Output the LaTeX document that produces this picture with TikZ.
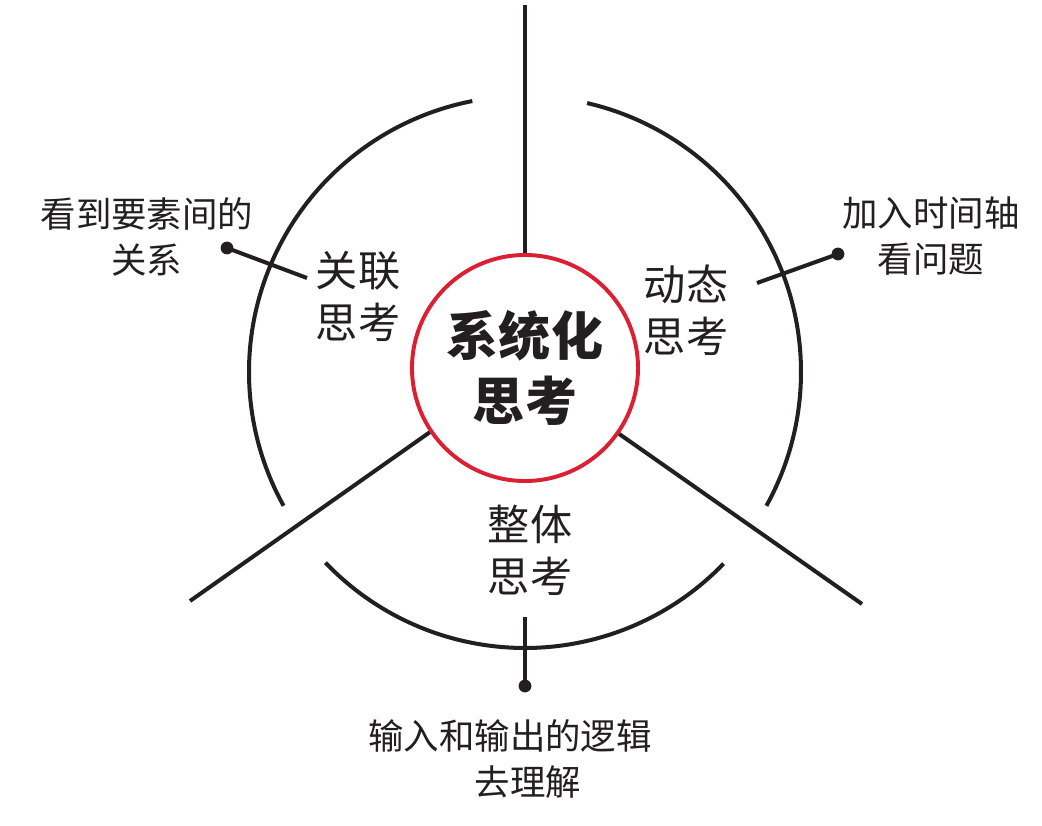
\documentclass[tikz,border=0pt]{standalone}
\usepackage{fontspec}
\newfontfamily\cjk{Noto Sans CJK SC}
\definecolor{ringred}{RGB}{220,32,52}
\definecolor{ink}{RGB}{35,31,32}
\begin{document}
\begin{tikzpicture}[x=0.025cm,y=0.025cm,
  blk/.style={draw=ink,line width=2.85pt},
  dotnode/.style={circle,fill=ink,inner sep=0pt,minimum size=0.32cm},
  lbl/.style={align=center,text=ink,inner sep=0pt,font=\cjk\fontsize{30}{37}\selectfont},
  small/.style={align=center,text=ink,inner sep=0pt,font=\cjk\fontsize{25.2}{32.5}\selectfont}]
\useasboundingbox (0,0) rectangle (1042,825);
\fill[white] (0,0) rectangle (1042,825);
\coordinate (O) at (525,453);
% center circle
\node[circle,draw=ringred,line width=2.8pt,minimum size=5.65cm,inner sep=0pt,
  align=center,text=ink,font=\cjk\bfseries\fontsize{37}{46}\selectfont] (c) at (525,457) {系统化\\思考};
% spokes
\coordinate (top) at (525,820);
\coordinate (ll) at (190,224);
\coordinate (lr) at (862,221);
\draw[blk] (c.north) -- (top);
\draw[blk] (c.214.8) -- (ll);
\draw[blk] (c.-35) -- (lr);
% outer arcs
\draw[blk] ([shift={(101:276)}]O) arc[start angle=101,end angle=209,radius=276];
\draw[blk] ([shift={(223.7:276)}]O) arc[start angle=223.7,end angle=316,radius=276];
\draw[blk] ([shift={(-29:276)}]O) arc[start angle=-29,end angle=77,radius=276];
% pointer dots
\node[dotnode] (d1) at (227,577) {};
\coordinate (e1) at (307,547);
\draw[blk] (d1.center) -- (e1);
\node[dotnode] (d2) at (838,571) {};
\coordinate (e2) at (757,542);
\draw[blk] (d2.center) -- (e2);
\node[dotnode] (d3) at (525,139) {};
\coordinate (e3) at (525,208);
\draw[blk] (d3.center) -- (e3);
% labels
\node[lbl] (l1) at (358,529) {关联\\思考};
\node[lbl] (l2) at (686,515) {动态\\思考};
\node[lbl] (l3) at (530,275) {整体\\思考};
\node[small] (t1) at (147,588) {看到要素间的\\关系};
\node[small] (t2) at (931,589) {加入时间轴\\看问题};
\node[small] (t3) at (510,66) {输入和输出的逻辑\\\hspace*{1em}去理解};
\end{tikzpicture}
\end{document}
